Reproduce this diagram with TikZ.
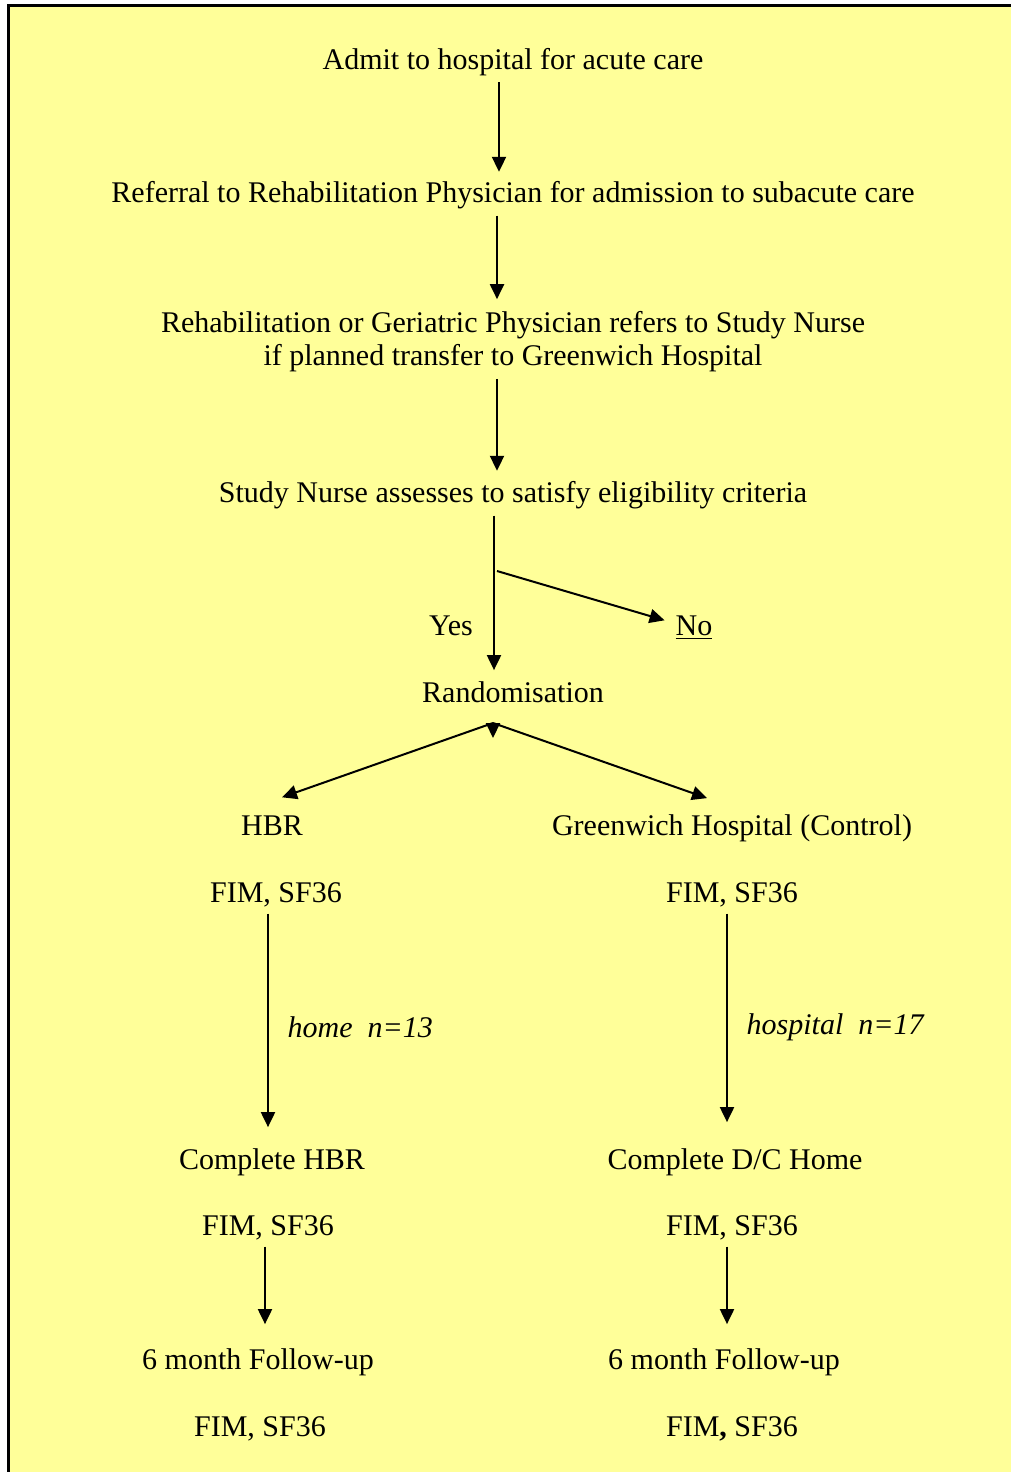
\documentclass[tikz,border=0pt]{standalone}
\usepackage{fontspec}
\setmainfont{Liberation Serif}
\usetikzlibrary{arrows.meta}
\definecolor{paleyellow}{HTML}{FFFF99}

\begin{document}
\begin{tikzpicture}[x=0.5pt, y=-0.5pt,
  txt/.style={anchor=base, font=\fontsize{15}{16.5}\selectfont},
  arr/.style={line width=1pt, -{Triangle[length=7.5pt,width=7pt]}}]

\useasboundingbox (0,0) rectangle (1011,1472);
\fill[paleyellow] (8,5) rectangle (1011,1472);
\draw[line width=1.5pt] (8,1472) -- (8,5) -- (1011,5);

% main trunk
\node[txt] (admit) at (513,69) {Admit to hospital for acute care};
\node[txt] (refer) at (513,202) {Referral to Rehabilitation Physician for admission to subacute care};
\node[txt, anchor=center, align=center] (rehab) at (513,341.5) {Rehabilitation or Geriatric Physician refers to Study Nurse\\if planned transfer to Greenwich Hospital};
\node[txt] (nurse) at (513,502) {Study Nurse assesses to satisfy eligibility criteria};
\node[txt] (yes) at (451,635) {Yes};
\node[txt] (no) at (694,635) {\underline{No}};
\node[txt] (rand) at (513,702) {Randomisation};

\draw[arr, shorten >=1pt] ([xshift=-7pt]admit.south) -- ([xshift=-7pt]refer.north);
\draw[arr, shorten >=2.5pt] ([xshift=-8pt]refer.south) -- ([xshift=-8pt]rehab.north);
\draw[arr, shorten >=1.5pt] ([xshift=-8pt]rehab.south) -- ([xshift=-8pt]nurse.north);
\draw[arr, shorten >=2pt] ([xshift=-9.5pt]nurse.south) -- ([xshift=-9.5pt]rand.north);
\coordinate (fork) at (497,571);
\draw[arr] (fork) -- ([xshift=-2pt,yshift=3.5pt]no.west);

% two arms
\node[txt] (hbr) at (272,835) {HBR};
\node[txt] (ghosp) at (732,835) {Greenwich Hospital (Control)};
\coordinate (apex) at (493,723);
\draw[arr] (apex) -- ([xshift=5pt,yshift=5.5pt]hbr.north);
\draw[arr] (apex) -- ([xshift=-12.5pt,yshift=4.5pt]ghosp.north);
\draw[arr] (apex) -- ++(0,15);

\node[txt] (fimA) at (276,902) {FIM, SF36};
\node[txt] (fimB) at (732,902) {FIM, SF36};
\node[txt] (doneA) at (272,1169) {Complete HBR};
\node[txt] (doneB) at (735,1169) {Complete D/C Home};
\node[txt] (fimC) at (268,1235) {FIM, SF36};
\node[txt] (fimD) at (732,1235) {FIM, SF36};
\node[txt] (fupA) at (258,1369) {6 month Follow-up};
\node[txt] (fupB) at (724,1369) {6 month Follow-up};
\node[txt] (fimE) at (260,1436) {FIM, SF36};
\node[txt] (fimF) at (732,1436) {FIM{\bfseries,} SF36};

\draw[arr, shorten >=7pt] ([xshift=-4pt]fimA.south) -- ([xshift=-4pt]fimA.south |- doneA.north)
  node[midway, right=6pt, font=\fontsize{15}{16.5}\selectfont\itshape] (homeN) {home\ \ n=13};
\draw[arr, shorten >=9.5pt] ([xshift=-2.5pt]fimB.south) -- ([xshift=-2.5pt]fimB.south |- doneB.north)
  node[midway, right=6pt, font=\fontsize{15}{16.5}\selectfont\itshape] (hospN) {hospital\ \ n=17};
\draw[arr, shorten >=8.5pt] ([xshift=-1.5pt]fimC.south) -- ([xshift=-1.5pt]fimC.south |- fupA.north);
\draw[arr, shorten >=8.5pt] ([xshift=-2.5pt]fimD.south) -- ([xshift=-2.5pt]fimD.south |- fupB.north);

\end{tikzpicture}
\end{document}
